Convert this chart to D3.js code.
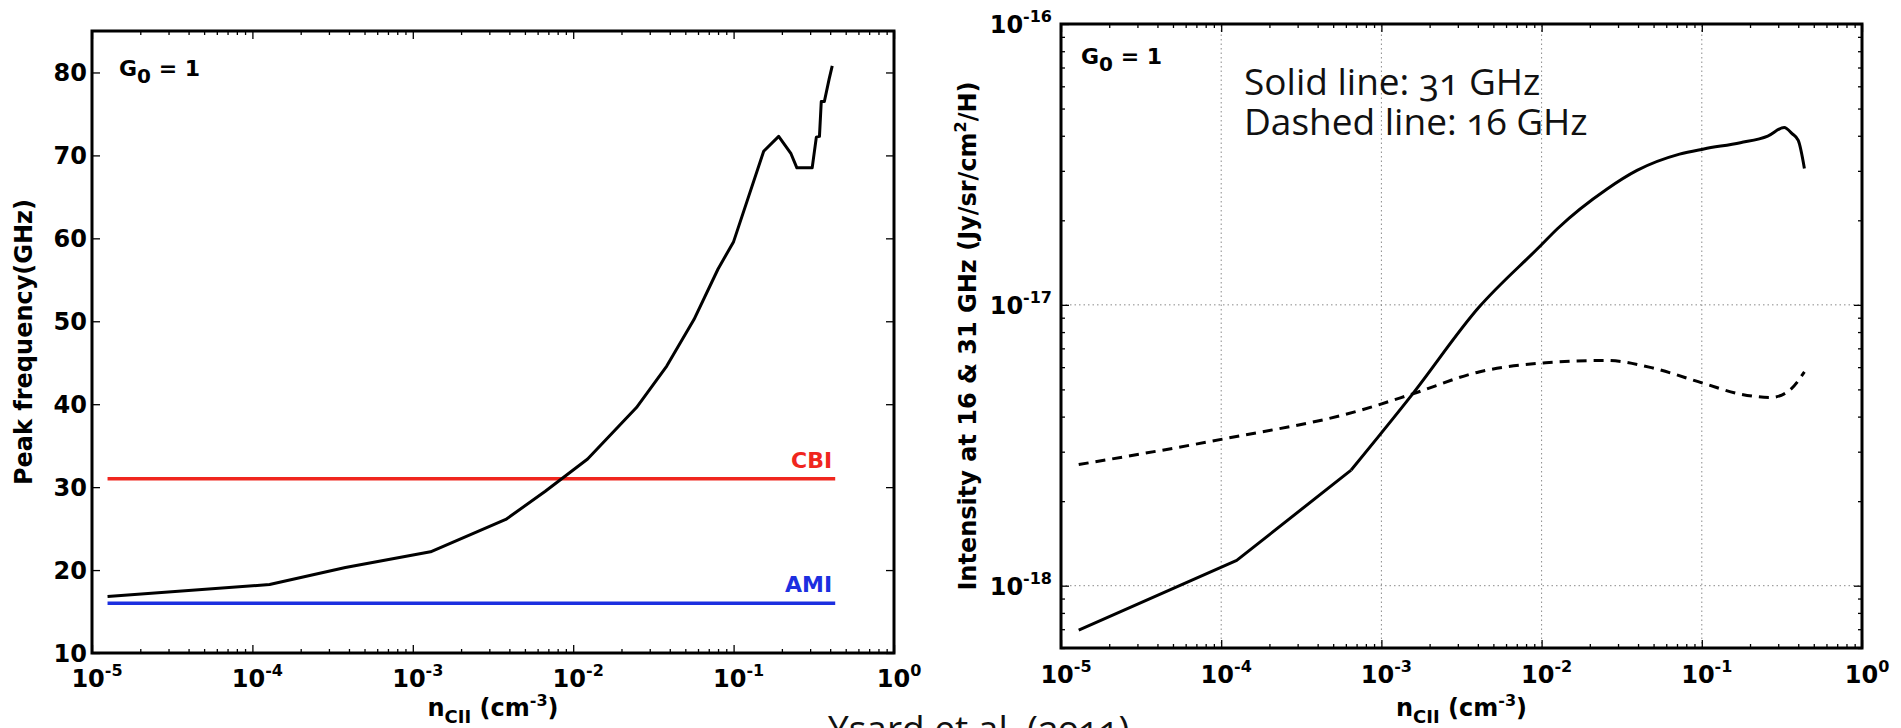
<!DOCTYPE html>
<html><head><meta charset="utf-8">
<script src="https://cdn.jsdelivr.net/npm/d3@7/dist/d3.min.js"></script>
<style>
html,body{margin:0;padding:0;background:#fff;}
svg{display:block;}
.mpl{font-family:"DejaVu Sans",sans-serif;font-weight:bold;}
.note{font-family:"Open Sans",sans-serif;font-variant-numeric:oldstyle-nums;font-feature-settings:"onum";}
</style></head>
<body>
<svg id="chart" width="1901" height="728"></svg>
<script>
// ---------------- data ----------------
// Left panel: peak frequency (GHz) vs n_CII (cm^-3)
const peakN    = [1.25e-5,1.28e-4,3.8e-4,1.29e-3,3.8e-3,6.7e-3,1.23e-2,2.48e-2,3.83e-2,5.66e-2,8.0e-2,0.100,0.154,0.191,0.228,0.248,0.309,0.328,0.343,0.352,0.368,0.394,0.412];
const peakFreq = [16.8,18.25,20.3,22.2,26.1,29.5,33.4,39.6,44.6,50.2,56.3,59.6,70.5,72.3,70.2,68.5,68.5,72.2,72.3,76.5,76.5,79.2,80.8];
const refLines = ["CBI","AMI"];
const refFreq  = [31,16];
const refColor = ["#f0261e","#1c2fe0"];
const refRange = [1.25e-5,0.43];
const leftYTicks = [10,20,30,40,50,60,70,80];

// Right panel: intensity at 31 GHz (solid) and 16 GHz (dashed)
const i31N = [1.29e-5,1.25e-4,6.47e-4,1.55e-3,4.06e-3,9.7e-3,1.26e-2,2.55e-2,3.94e-2,7.26e-2,0.103,0.174,0.258,0.327,0.366,0.400,0.437];
const i31  = [6.95e-19,1.23e-18,2.58e-18,4.78e-18,9.8e-18,1.61e-17,1.87e-17,2.58e-17,3.01e-17,3.44e-17,3.59e-17,3.78e-17,3.99e-17,4.28e-17,4.07e-17,3.85e-17,3.06e-17];
const i16N = [1.29e-5,1.03e-4,7.06e-4,1.55e-3,4.06e-3,1.06e-2,2.55e-2,4.69e-2,0.103,0.174,0.270,0.351,0.437];
const i16  = [2.70e-18,3.33e-18,4.18e-18,4.81e-18,5.77e-18,6.22e-18,6.34e-18,6.0e-18,5.25e-18,4.81e-18,4.68e-18,4.95e-18,5.77e-18];
const xTickExp = [-5,-4,-3,-2,-1,0];
const rightYTickExp = [-16,-17,-18];

// ---------------- drawing ----------------
const svg = d3.select("#chart");
const FS = 24, SUP = 16;

function logMinor(domain){
  const out=[]; const lo=Math.floor(Math.log10(domain[0])), hi=Math.ceil(Math.log10(domain[1]));
  for(let e=lo;e<hi;e++) for(let k=2;k<=9;k++){const v=k*Math.pow(10,e); if(v>=domain[0]&&v<=domain[1]) out.push(v);}
  return out;
}

function sciLabel(sel, exp){
  sel.append("tspan").text("10");
  sel.append("tspan").attr("dy",-11).attr("font-size",SUP).text(String(exp));
}

function panel(opt){
  const g = svg.append("g").attr("class","mpl");
  const x = opt.x, y = opt.y;
  const [x0,x1] = x.range(), [y0,y1] = y.range();

  if(opt.grid){
    const gg=g.append("g");
    gg.selectAll("line.gx").data(xTickExp.slice(1,-1)).join("line")
      .attr("x1",d=>x(Math.pow(10,d))).attr("x2",d=>x(Math.pow(10,d)))
      .attr("y1",y0).attr("y2",y1).attr("stroke","#8a8a8a").attr("stroke-width",1).attr("stroke-dasharray","1.5,3");
    gg.selectAll("line.gy").data(opt.gridY).join("line")
      .attr("x1",x0).attr("x2",x1).attr("y1",d=>y(d)).attr("y2",d=>y(d))
      .attr("stroke","#8a8a8a").attr("stroke-width",1).attr("stroke-dasharray","1.5,3");
  }

  const majorX = xTickExp.map(e=>Math.pow(10,e));
  const minorX = logMinor(x.domain());
  const axB = g.append("g").attr("transform",`translate(0,${y0})`);
  axB.call(d3.axisBottom(x).tickValues(majorX).tickSize(-8).tickFormat(""));
  axB.append("g").call(d3.axisBottom(x).tickValues(minorX).tickSize(-4).tickFormat(""));
  const axT = g.append("g").attr("transform",`translate(0,${y1})`);
  axT.call(d3.axisTop(x).tickValues(majorX).tickSize(-8).tickFormat(""));
  axT.append("g").call(d3.axisTop(x).tickValues(minorX).tickSize(-4).tickFormat(""));

  const axL = g.append("g").attr("transform",`translate(${x0},0)`);
  axL.call(d3.axisLeft(y).tickValues(opt.yMajor).tickSize(-8).tickFormat(""));
  const axR = g.append("g").attr("transform",`translate(${x1},0)`);
  axR.call(d3.axisRight(y).tickValues(opt.yMajor).tickSize(-8).tickFormat(""));
  if(opt.yMinor){
    axL.append("g").call(d3.axisLeft(y).tickValues(opt.yMinor).tickSize(-4).tickFormat(""));
    axR.append("g").call(d3.axisRight(y).tickValues(opt.yMinor).tickSize(-4).tickFormat(""));
  }
  g.selectAll(".domain").remove();
  g.selectAll(".tick line").attr("stroke","#000").attr("stroke-width",1.3);

  g.append("g").selectAll("text").data(xTickExp).join("text")
    .attr("x",d=>x(Math.pow(10,d))+5).attr("y",y0+opt.xLabOff).attr("text-anchor","middle")
    .attr("font-size",FS).each(function(d){sciLabel(d3.select(this),d);});

  const xl = g.append("text").attr("x",(x0+x1)/2).attr("y",opt.xTitleY).attr("text-anchor","middle").attr("font-size",FS);
  xl.append("tspan").text("n");
  xl.append("tspan").attr("dy",7).attr("font-size",18).text("CII");
  xl.append("tspan").attr("dy",-7).text(" (cm");
  xl.append("tspan").attr("dy",-10).attr("font-size",SUP).text("-3");
  xl.append("tspan").attr("dy",10).text(")");

  const gt = g.append("text").attr("x",x0+opt.g0dx).attr("y",y1+opt.g0dy).attr("font-size",22);
  gt.append("tspan").text("G");
  gt.append("tspan").attr("dy",7).attr("font-size",20).text("0");
  gt.append("tspan").attr("dy",-7).text(" = 1");

  return g;
}

// ---- Left panel ----
const xL = d3.scaleLog().domain([1e-5,1]).range([92,894]);
const yL = d3.scaleLinear().domain([10,85]).range([653,31]);
const gL = panel({x:xL,y:yL,yMajor:leftYTicks,xLabOff:34,xTitleY:716,g0dx:27,g0dy:45});

refLines.forEach((name,i)=>{
  gL.append("line").attr("x1",xL(refRange[0])).attr("x2",xL(refRange[1]))
    .attr("y1",yL(refFreq[i])).attr("y2",yL(refFreq[i]))
    .attr("stroke",refColor[i]).attr("stroke-width",3.5);
  gL.append("text").attr("x",xL(refRange[1])-3).attr("y",yL(refFreq[i])-11)
    .attr("text-anchor","end").attr("font-size",22).attr("fill",refColor[i]).text(name);
});
gL.append("path").datum(d3.range(peakN.length))
  .attr("fill","none").attr("stroke","#000").attr("stroke-width",3).attr("stroke-linejoin","round")
  .attr("d",d3.line().x(i=>xL(peakN[i])).y(i=>yL(peakFreq[i])));

gL.append("g").selectAll("text").data(leftYTicks).join("text")
  .attr("x",87).attr("y",d=>yL(d)+9).attr("text-anchor","end").attr("font-size",FS).text(d=>d);
gL.append("text").attr("transform",`translate(32,${(31+653)/2}) rotate(-90)`)
  .attr("text-anchor","middle").attr("font-size",FS).text("Peak frequency(GHz)");

// ---- Right panel ----
const xR = d3.scaleLog().domain([1e-5,1]).range([1061,1862]);
const yR = d3.scaleLog().domain([6.0e-19,1e-16]).range([648,24]);
const yRMajor = rightYTickExp.map(e=>Math.pow(10,e));
const gR = panel({x:xR,y:yR,yMajor:yRMajor,yMinor:logMinor(yR.domain()),grid:true,gridY:[1e-17,1e-18],
  xLabOff:35,xTitleY:716,g0dx:20,g0dy:40});

// 31 GHz: straight low-density segments, smooth beyond the second kink
const idx31 = d3.range(i31N.length);
gR.append("path").datum(idx31.slice(0,3))
  .attr("fill","none").attr("stroke","#000").attr("stroke-width",3).attr("stroke-linejoin","round")
  .attr("d",d3.line().x(i=>xR(i31N[i])).y(i=>yR(i31[i])));
gR.append("path").datum(idx31.slice(2))
  .attr("fill","none").attr("stroke","#000").attr("stroke-width",3).attr("stroke-linejoin","round")
  .attr("d",d3.line().x(i=>xR(i31N[i])).y(i=>yR(i31[i])).curve(d3.curveMonotoneX));
gR.append("path").datum(d3.range(i16N.length))
  .attr("fill","none").attr("stroke","#000").attr("stroke-width",3).attr("stroke-dasharray","10,7")
  .attr("d",d3.line().x(i=>xR(i16N[i])).y(i=>yR(i16[i])).curve(d3.curveMonotoneX));

gR.append("g").selectAll("text").data(rightYTickExp).join("text")
  .attr("x",1052).attr("y",d=>yR(Math.pow(10,d))+9).attr("text-anchor","end").attr("font-size",FS)
  .each(function(d){sciLabel(d3.select(this),d);});
const yt = gR.append("text").attr("transform",`translate(976,${(24+648)/2}) rotate(-90)`)
  .attr("text-anchor","middle").attr("font-size",FS);
yt.append("tspan").text("Intensity at 16 & 31 GHz (Jy/sr/cm");
yt.append("tspan").attr("dy",-10).attr("font-size",SUP).text("2");
yt.append("tspan").attr("dy",10).text("/H)");

[[xL,yL],[xR,yR]].forEach(([x,y])=>{
  svg.append("rect").attr("x",x.range()[0]).attr("y",y.range()[1])
    .attr("width",x.range()[1]-x.range()[0]).attr("height",y.range()[0]-y.range()[1])
    .attr("fill","none").attr("stroke","#000").attr("stroke-width",3);
});

const note = svg.append("g").attr("class","note").attr("font-size",37).attr("fill","#111");
note.append("text").attr("x",1244).attr("y",95).text("Solid line: 31 GHz");
note.append("text").attr("x",1244).attr("y",135).text("Dashed line: 16 GHz");
note.append("text").attr("x",828).attr("y",742).text("Ysard et al. (2011)");
</script>
</body></html>
